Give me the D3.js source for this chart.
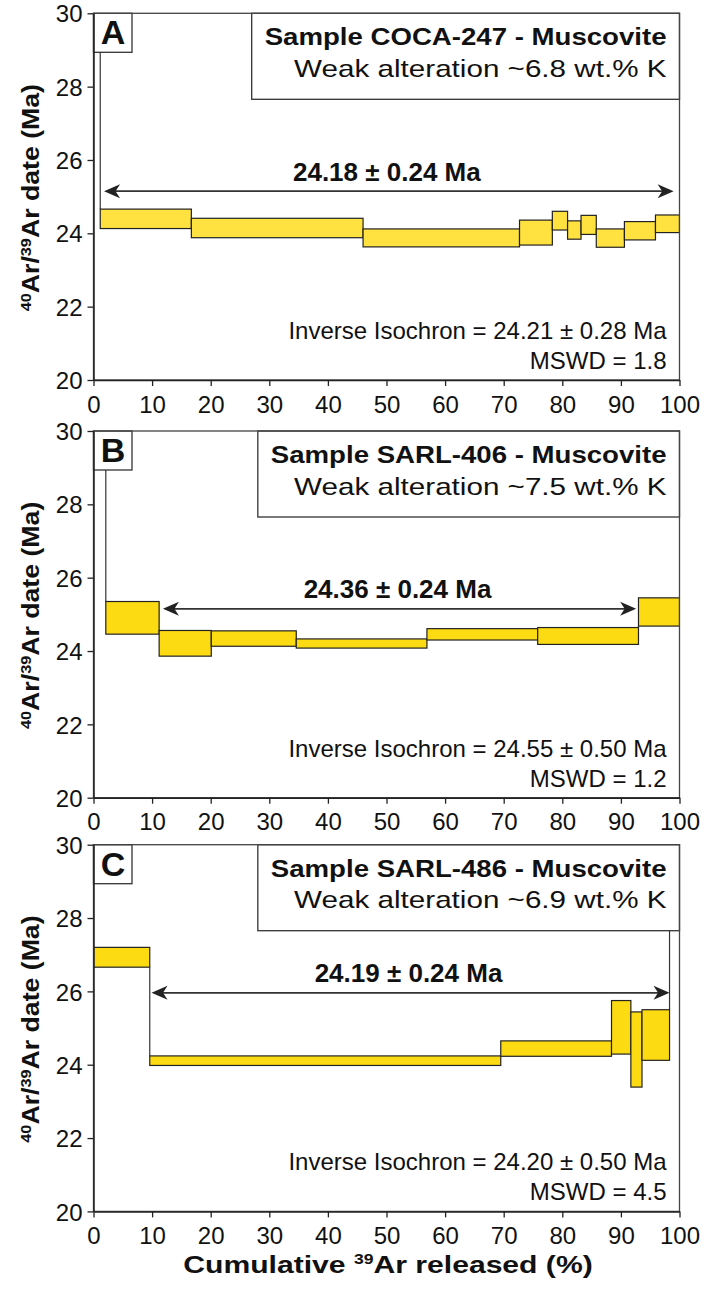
<!doctype html>
<html>
<head>
<script src="https://cdnjs.cloudflare.com/ajax/libs/d3/7.8.5/d3.min.js"></script>
<style>
  body { margin: 0; background: #fff; }
  text { font-family: "Liberation Sans", Arial, sans-serif; }
</style>
</head>
<body>
<svg id="chart" width="703" height="1290"></svg>
<script>
// step boundaries (cumulative 39Ar released, %) and age limits (Ma) for each heating step
var cumA = [0, 1.15, 16.7, 46.0, 72.7, 78.3, 80.9, 83.2, 85.8, 90.6, 95.9, 100];
var loA  = [31.0, 24.13, 23.88, 23.63, 23.68, 24.09, 23.84, 23.97, 23.62, 23.82, 24.02];
var hiA  = [33.0, 24.66, 24.41, 24.12, 24.36, 24.60, 24.34, 24.49, 24.12, 24.32, 24.50];

var cumB = [0, 2.1, 11.2, 20.1, 34.6, 56.9, 75.8, 93.0, 100];
var loB  = [31.0, 24.46, 23.86, 24.13, 24.08, 24.30, 24.18, 24.68];
var hiB  = [33.0, 25.35, 24.56, 24.55, 24.33, 24.61, 24.64, 25.45];

var cumC = [0, 9.6, 69.5, 88.4, 91.7, 93.6, 98.3, 100];
var loC  = [26.66, 23.98, 24.23, 24.29, 23.39, 24.12, 31.0];
var hiC  = [27.20, 24.24, 24.65, 25.75, 25.44, 25.50, 33.0];

// plateau arrows: [start %, end %, age level Ma]
var plateauA = [1.8, 99.0, 25.15];
var plateauB = [11.85, 92.6, 25.15];
var plateauC = [9.9, 98.3, 25.96];

var letters   = ["A", "B", "C"];
var samples   = ["COCA-247", "SARL-406", "SARL-486"];
var potassium = ["6.8", "7.5", "6.9"];
var plateauAges = ["24.18 ± 0.24 Ma", "24.36 ± 0.24 Ma", "24.19 ± 0.24 Ma"];
var isochrons = ["24.21 ± 0.28", "24.55 ± 0.50", "24.20 ± 0.50"];
var mswds     = ["1.8", "1.2", "4.5"];

var yTicks = [20, 22, 24, 26, 28, 30];
var xTicks = [0, 10, 20, 30, 40, 50, 60, 70, 80, 90, 100];

var panels = [
  {cum: cumA, lo: loA, hi: hiA, plateau: plateauA, fill: "#ffe13f"},
  {cum: cumB, lo: loB, hi: hiB, plateau: plateauB, fill: "#fddb12"},
  {cum: cumC, lo: loC, hi: hiC, plateau: plateauC, fill: "#fddb12"}
];

var svg = d3.select("#chart");
var tops = [13.3, 431, 844.7];
var ph = 366.7;
var x = d3.scaleLinear().domain([0, 100]).range([93.5, 679.5]);

panels.forEach(function(p, i) {
  var top = tops[i], bottom = top + ph;
  var y = d3.scaleLinear().domain([20, 30]).range([bottom, top]);
  var g = svg.append("g");

  g.append("clipPath").attr("id", "clip" + i)
    .append("rect")
    .attr("x", x(0)).attr("y", top)
    .attr("width", x(100) - x(0)).attr("height", ph);

  var plot = g.append("g").attr("clip-path", "url(#clip" + i + ")");

  var steps = p.cum.slice(1).map(function(c, j) {
    return {x0: p.cum[j], x1: c, lo: p.lo[j], hi: p.hi[j]};
  });

  // vertical connectors where consecutive steps don't overlap
  var links = [];
  for (var j = 0; j < steps.length - 1; j++) {
    var a = steps[j], b = steps[j + 1];
    if (a.lo > b.hi) links.push({x: a.x1, y0: a.lo, y1: b.hi});
    else if (a.hi < b.lo) links.push({x: a.x1, y0: a.hi, y1: b.lo});
  }
  plot.selectAll("line.link").data(links).join("line")
    .attr("x1", d => x(d.x)).attr("x2", d => x(d.x))
    .attr("y1", d => y(d.y0)).attr("y2", d => y(d.y1))
    .attr("stroke", "#333").attr("stroke-width", 1.2);

  plot.selectAll("rect.step").data(steps).join("rect")
    .attr("x", d => x(d.x0))
    .attr("width", d => x(d.x1) - x(d.x0))
    .attr("y", d => y(d.hi))
    .attr("height", d => y(d.lo) - y(d.hi))
    .attr("fill", p.fill)
    .attr("stroke", "#222")
    .attr("stroke-width", 1.2);

  // plateau arrow
  var ax0 = x(p.plateau[0]), ax1 = x(p.plateau[1]), ay = y(p.plateau[2]);
  g.append("line")
    .attr("x1", ax0 + 6).attr("x2", ax1 - 6)
    .attr("y1", ay).attr("y2", ay)
    .attr("stroke", "#333").attr("stroke-width", 1.6);
  g.append("path")
    .attr("d", "M" + ax0 + "," + ay + " l16,-7 l-4.5,7 l4.5,7 z")
    .attr("fill", "#222");
  g.append("path")
    .attr("d", "M" + ax1 + "," + ay + " l-16,-7 l4.5,7 l-4.5,7 z")
    .attr("fill", "#222");
  g.append("text")
    .attr("x", (ax0 + ax1) / 2 - 2).attr("y", ay - 10.5)
    .attr("text-anchor", "middle")
    .attr("font-size", 26).attr("font-weight", "bold")
    .attr("fill", "#111")
    .text(plateauAges[i]);

  // inverse isochron text
  g.append("text")
    .attr("x", x(100) - 13).attr("y", bottom - 41)
    .attr("text-anchor", "end").attr("font-size", 24).attr("fill", "#111")
    .text("Inverse Isochron = " + isochrons[i] + " Ma");
  g.append("text")
    .attr("x", x(100) - 13).attr("y", bottom - 11)
    .attr("text-anchor", "end").attr("font-size", 24).attr("fill", "#111")
    .text("MSWD = " + mswds[i]);

  // sample box (top right)
  var box = g.append("g");
  var boxRect = box.append("rect");
  var rx = x(100) - 13;
  var t1 = box.append("g").attr("transform", "translate(" + rx + "," + (top + 32) + ") scale(1.15,1)");
  var tt1 = t1.append("text").attr("text-anchor", "end")
    .attr("font-size", 24).attr("font-weight", "bold").attr("fill", "#111")
    .text("Sample " + samples[i] + " - Muscovite");
  var t2 = box.append("g").attr("transform", "translate(" + rx + "," + (top + 63.5) + ") scale(1.235,1)");
  var tt2 = t2.append("text").attr("text-anchor", "end")
    .attr("font-size", 24).attr("fill", "#111")
    .text("Weak alteration ~" + potassium[i] + " wt.% K");
  var wMax = Math.max(tt1.node().getComputedTextLength() * 1.15,
                      tt2.node().getComputedTextLength() * 1.235);
  var bx = rx - wMax - 13;
  boxRect.attr("x", bx).attr("y", top)
    .attr("width", x(100) - bx).attr("height", 86)
    .attr("fill", "#fff").attr("stroke", "#333").attr("stroke-width", 1.3);

  // panel letter
  g.append("rect")
    .attr("x", x(0)).attr("y", top).attr("width", 38.5).attr("height", 39)
    .attr("fill", "#fff").attr("stroke", "#333").attr("stroke-width", 1.3);
  g.append("text")
    .attr("x", x(0) + 19.5).attr("y", top + 31)
    .attr("text-anchor", "middle")
    .attr("font-size", 34).attr("font-weight", "bold").attr("fill", "#111")
    .text(letters[i]);

  // frame
  g.append("rect")
    .attr("x", x(0)).attr("y", top)
    .attr("width", x(100) - x(0)).attr("height", ph)
    .attr("fill", "none").attr("stroke", "#444").attr("stroke-width", 1.3);

  // axes
  var yAxis = d3.axisLeft(y).tickValues(yTicks).tickSize(6).tickSizeOuter(0).tickPadding(5);
  var xAxis = d3.axisBottom(x).tickValues(xTicks).tickSize(6).tickSizeOuter(0).tickPadding(4);
  var ya = g.append("g").attr("transform", "translate(" + x(0) + ",0)").call(yAxis);
  var xa = g.append("g").attr("transform", "translate(0," + bottom + ")").call(xAxis);
  [ya, xa].forEach(function(ax) {
    ax.select(".domain").attr("stroke", "#222").attr("stroke-width", 1.5);
    ax.selectAll(".tick line").attr("stroke", "#222").attr("stroke-width", 1.3);
    ax.selectAll(".tick text").attr("font-size", 24).attr("fill", "#111")
      .attr("font-family", "'Liberation Sans', Arial, sans-serif");
  });
  ya.selectAll(".tick text").attr("dy", "0.36em");
  xa.selectAll(".tick text").attr("dy", "0.95em");

  // y axis title
  var yt = g.append("g")
    .attr("transform", "translate(38.5," + (top + ph / 2 + 1) + ") rotate(-90) scale(1.16,1)")
    .append("text")
    .attr("text-anchor", "middle")
    .attr("font-size", 23).attr("font-weight", "bold").attr("fill", "#111");
  yt.append("tspan").attr("font-size", 14).attr("dy", -8).text("40");
  yt.append("tspan").attr("dy", 8).text("Ar/");
  yt.append("tspan").attr("font-size", 14).attr("dy", -8).text("39");
  yt.append("tspan").attr("dy", 8).text("Ar date (Ma)");
});

// x axis title
var xt = svg.append("g")
  .attr("transform", "translate(388,1273) scale(1.255,1)")
  .append("text")
  .attr("text-anchor", "middle")
  .attr("font-size", 24).attr("font-weight", "bold").attr("fill", "#111");
xt.append("tspan").text("Cumulative ");
xt.append("tspan").attr("font-size", 14).attr("dy", -9).text("39");
xt.append("tspan").attr("dy", 9).text("Ar released (%)");
</script>
</body>
</html>
